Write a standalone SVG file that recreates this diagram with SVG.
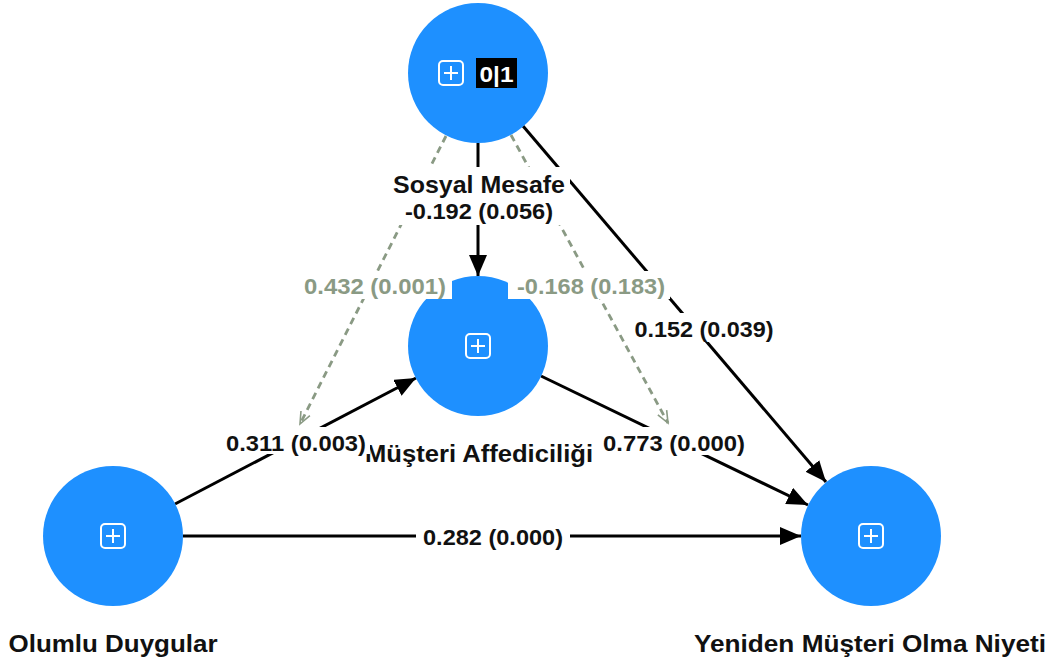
<svg xmlns="http://www.w3.org/2000/svg" width="1053" height="666" viewBox="0 0 1053 666">
  <style>
    .node { fill: #1E90FF; }
    .icon { fill: none; stroke: #ffffff; stroke-width: 2; }
    .path { stroke: #000000; stroke-width: 3; fill: none; }
    .mod { stroke: #8a9a84; stroke-width: 2.8; stroke-dasharray: 7 5; fill: none; }
    .nlabel { font-family: "Liberation Sans", Arial, sans-serif; font-weight: bold; font-size: 24px; fill: #111111; text-anchor: middle; }
    .elabel { font-family: "Liberation Sans", Arial, sans-serif; font-weight: bold; font-size: 22px; fill: #111111; text-anchor: middle; }
    .mlabel { font-family: "Liberation Sans", Arial, sans-serif; font-weight: bold; font-size: 22px; fill: #8a9a84; text-anchor: middle; }
    .bg { fill: #ffffff; }
  </style>
  <defs>
    <marker id="arrow" markerUnits="userSpaceOnUse" markerWidth="22" markerHeight="20" refX="21" refY="9" orient="auto">
      <path d="M0,0 L21,9 L0,18 z" fill="#000000"/>
    </marker>
    <marker id="open" markerUnits="userSpaceOnUse" markerWidth="16" markerHeight="14" refX="13" refY="6" orient="auto">
      <path d="M1,1 L13,6 L1,11" fill="none" stroke="#8a9a84" stroke-width="1.6"/>
    </marker>
    <g id="expand">
      <rect x="-12" y="-12" width="24" height="24" rx="4" class="icon"/>
      <path d="M0,-7 V7 M-7,0 H7" class="icon"/>
    </g>
  </defs>

  <!-- connectors -->
  <g id="connectors">
    <line class="path" x1="478" y1="143" x2="478" y2="276" marker-end="url(#arrow)"/>
    <line class="path" x1="523" y1="126" x2="826" y2="482" marker-end="url(#arrow)"/>
    <line class="path" x1="175" y1="504" x2="416" y2="378" marker-end="url(#arrow)"/>
    <line class="path" x1="541" y1="376" x2="808" y2="505" marker-end="url(#arrow)"/>
    <line class="path" x1="183" y1="536" x2="801" y2="536" marker-end="url(#arrow)"/>
    <line class="mod" x1="446" y1="136" x2="300" y2="424" marker-end="url(#open)"/>
    <line class="mod" x1="511" y1="135" x2="668" y2="423" marker-end="url(#open)"/>
  </g>

  <!-- nodes -->
  <g id="node-sosyal-mesafe">
    <circle class="node" cx="478" cy="73" r="70"/>
    <use href="#expand" x="451" y="73"/>
    <rect x="476" y="58" width="41" height="30" fill="#000000"/>
    <text x="496.5" y="82" font-family="Liberation Sans, Arial, sans-serif" font-weight="bold" font-size="22" fill="#ffffff" text-anchor="middle" textLength="34" lengthAdjust="spacingAndGlyphs">0|1</text>
  </g>
  <g id="node-musteri-affediciligi">
    <circle class="node" cx="478" cy="346" r="70"/>
    <use href="#expand" x="478" y="346"/>
    <text class="nlabel" x="479" y="462" textLength="228" lengthAdjust="spacingAndGlyphs">Müşteri Affediciliği</text>
  </g>
  <g id="node-olumlu-duygular">
    <circle class="node" cx="113" cy="536" r="70"/>
    <use href="#expand" x="113" y="536"/>
    <text class="nlabel" x="113" y="652" textLength="209" lengthAdjust="spacingAndGlyphs">Olumlu Duygular</text>
  </g>
  <g id="node-yeniden-musteri">
    <circle class="node" cx="871" cy="536" r="70"/>
    <use href="#expand" x="871" y="536"/>
    <text class="nlabel" x="870" y="652" textLength="352" lengthAdjust="spacingAndGlyphs">Yeniden Müşteri Olma Niyeti</text>
  </g>

  <!-- path coefficient labels -->
  <g id="labels">
    <rect class="bg" x="388" y="167" width="182" height="58"/>
    <text class="nlabel" x="479" y="193" textLength="172" lengthAdjust="spacingAndGlyphs">Sosyal Mesafe</text>
    <text class="elabel" x="479" y="219" textLength="148" lengthAdjust="spacingAndGlyphs">-0.192 (0.056)</text>

    <rect class="bg" x="300" y="271" width="152" height="28"/>
    <text class="mlabel" x="375" y="294" textLength="142" lengthAdjust="spacingAndGlyphs">0.432 (0.001)</text>
    <rect class="bg" x="508" y="271" width="162" height="28"/>
    <text class="mlabel" x="591" y="294" textLength="148" lengthAdjust="spacingAndGlyphs">-0.168 (0.183)</text>

    <rect class="bg" x="630" y="313" width="148" height="29"/>
    <text class="elabel" x="704" y="337" textLength="139" lengthAdjust="spacingAndGlyphs">0.152 (0.039)</text>

    <rect class="bg" x="222" y="427" width="148" height="27"/>
    <text class="elabel" x="296" y="451" textLength="140" lengthAdjust="spacingAndGlyphs">0.311 (0.003)</text>
    <rect class="bg" x="598" y="427" width="152" height="28"/>
    <text class="elabel" x="674" y="451" textLength="142" lengthAdjust="spacingAndGlyphs">0.773 (0.000)</text>

    <rect class="bg" x="416" y="522" width="154" height="29"/>
    <text class="elabel" x="493" y="545" textLength="140" lengthAdjust="spacingAndGlyphs">0.282 (0.000)</text>
  </g>
</svg>
